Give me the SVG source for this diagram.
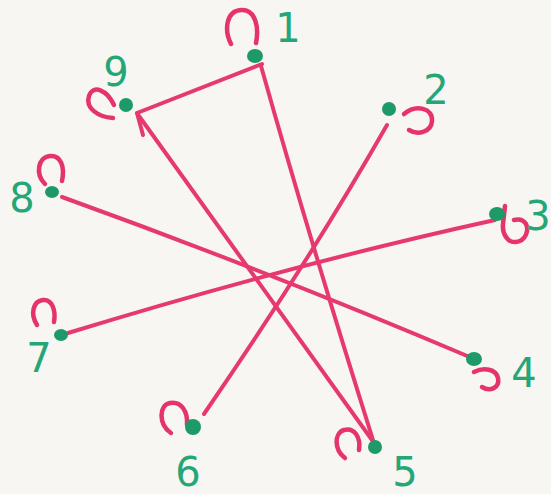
<svg xmlns="http://www.w3.org/2000/svg" width="551" height="494" viewBox="0 0 551 494">
<style>
.bg{fill:#f8f6f3}
.dot{fill:#1e9a68}
.loop{fill:none;stroke:#e5336b;stroke-width:4.5;stroke-linecap:round}
.edge{fill:none;stroke:#e63a6e;stroke-width:4;stroke-linecap:round;stroke-linejoin:round}
.lbl{fill:#25a676;font-family:"DejaVu Sans","Liberation Sans",sans-serif;font-size:40px;text-anchor:middle}
</style>
<rect class="bg" x="0" y="0" width="551" height="494"/>
<g id="connectors">
<path class="edge" d="M262,64 L137,113"/>
<path class="edge" d="M137,113 L143,135"/>
<path class="edge" d="M139,116 Q250,270 372,440"/>
<path class="edge" d="M261,66 Q310,240 373,440"/>
<path class="edge" d="M387,125 Q310,260 204,414"/>
<path class="edge" d="M62,197 Q270,272 472,358"/>
<path class="edge" d="M68,333 Q290,265 495,220"/>
</g>
<g id="node1">
<path class="loop" d="M231,44 C224,30 226,11 241,10 C256,9 259,28 256,43"/>
<ellipse class="dot" cx="255" cy="56" rx="8" ry="7"/>
<text class="lbl" x="288" y="42">1</text>
</g>
<g id="node2">
<path class="loop" d="M404,114 C416,104 433,108 432,121 C431,133 417,135 409,130"/>
<ellipse class="dot" cx="389" cy="109" rx="7" ry="7"/>
<text class="lbl" x="436" y="104">2</text>
</g>
<g id="node3">
<path class="loop" d="M505,206 L503,224 C502,234 508,243 516,242 C526,241 529,230 526,224 C523,219 518,219 514,220"/>
<ellipse class="dot" cx="497" cy="214" rx="8" ry="7"/>
<text class="lbl" x="538" y="230">3</text>
</g>
<g id="node4">
<path class="loop" d="M474,372 C484,367 496,369 498,378 C500,388 490,392 482,387"/>
<ellipse class="dot" cx="474" cy="359" rx="8" ry="7"/>
<text class="lbl" x="524" y="387">4</text>
</g>
<g id="node5">
<path class="loop" d="M345,458 C334,450 334,433 344,430 C354,427 361,437 359,450"/>
<ellipse class="dot" cx="375" cy="447" rx="7" ry="7"/>
<text class="lbl" x="405" y="486">5</text>
</g>
<g id="node6">
<path class="loop" d="M171,433 C158,424 159,405 170,403 C181,401 188,411 187,425"/>
<ellipse class="dot" cx="193" cy="427" rx="8" ry="8"/>
<text class="lbl" x="188" y="486">6</text>
</g>
<g id="node7">
<path class="loop" d="M37,325 C30,314 33,301 43,300 C52,299 56,310 54,322"/>
<ellipse class="dot" cx="61" cy="335" rx="7" ry="6"/>
<text class="lbl" x="39" y="372">7</text>
</g>
<g id="node8">
<path class="loop" d="M45,184 C35,174 38,157 50,156 C61,155 65,167 62,181"/>
<ellipse class="dot" cx="52" cy="192" rx="7" ry="6"/>
<text class="lbl" x="22" y="212">8</text>
</g>
<g id="node9">
<path class="loop" d="M114,105 C107,90 93,84 89,96 C85,108 98,117 113,118"/>
<ellipse class="dot" cx="126" cy="105" rx="7" ry="7"/>
<text class="lbl" x="116" y="86">9</text>
</g>
</svg>
